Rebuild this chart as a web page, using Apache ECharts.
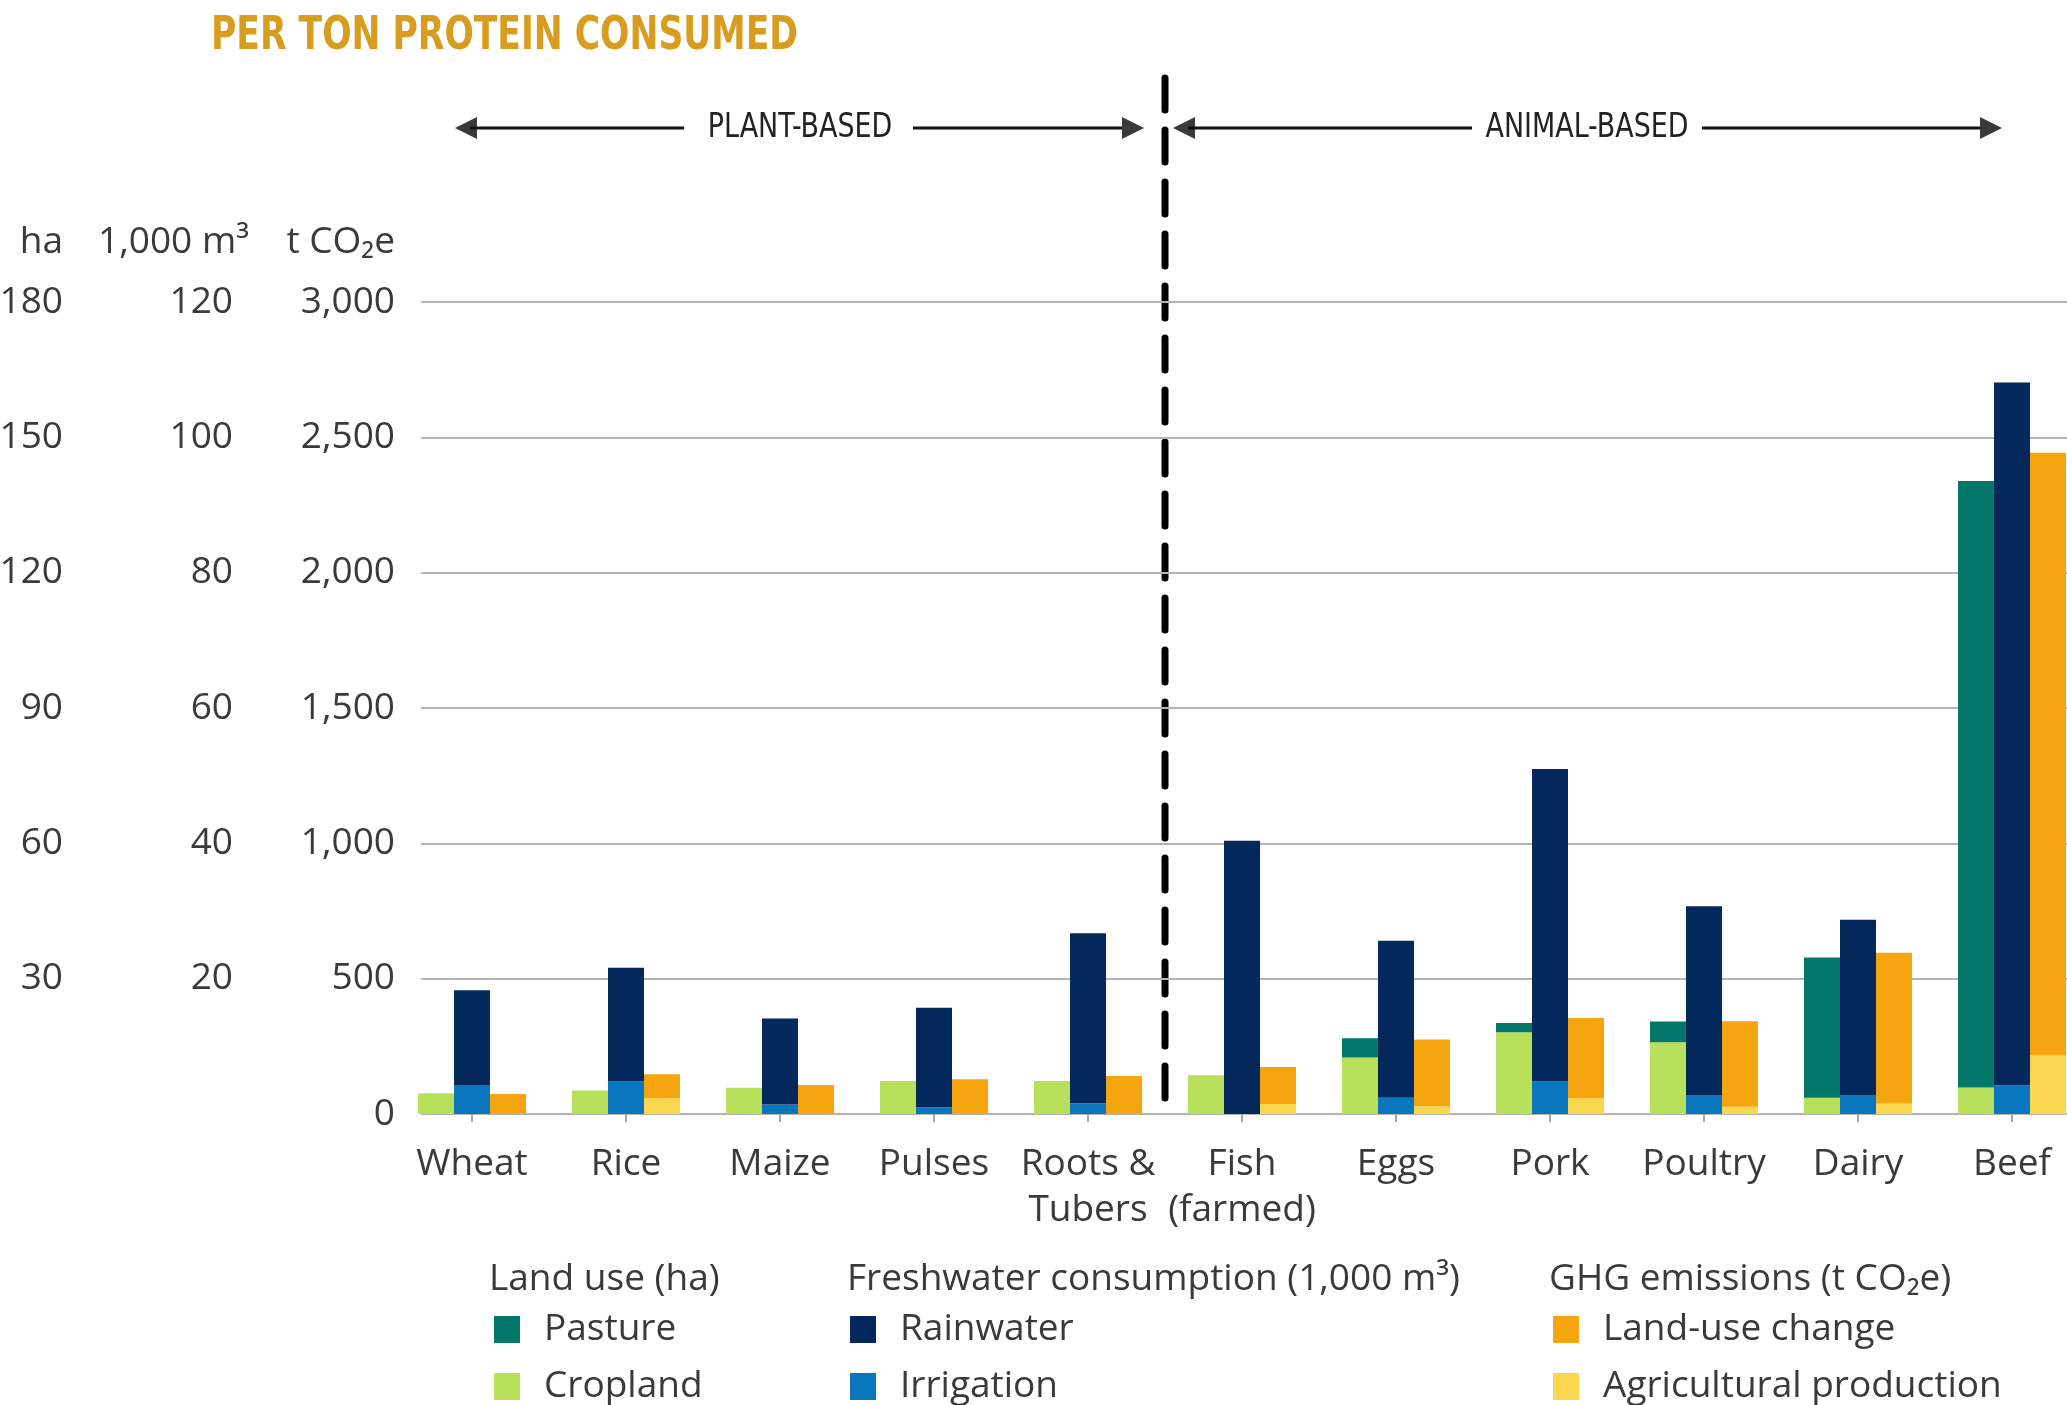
<!DOCTYPE html>
<html>
<head>
<meta charset="utf-8">
<title>Per ton protein consumed</title>
<script src="https://cdn.jsdelivr.net/npm/echarts@6/dist/echarts.min.js"></script>
<style>
html, body { margin: 0; padding: 0; background: #fff; }
#chart { width: 2067px; height: 1405px; }
</style>
</head>
<body>
<div id="chart"></div>
<script>
var categories = ['Wheat', 'Rice', 'Maize', 'Pulses', 'Roots &\nTubers', 'Fish\n(farmed)', 'Eggs', 'Pork', 'Poultry', 'Dairy', 'Beef'];

// land use, ha
var cropland = [4.6, 5.2, 5.8, 7.3, 7.3, 8.6, 12.5, 18.1, 15.9, 3.6, 5.9];
var pasture = [0, 0, 0, 0, 0, 0, 4.3, 2.1, 4.6, 31.1, 134.4];
// freshwater, 1,000 m3
var irrigation = [4.3, 4.8, 1.4, 1.0, 1.6, 0, 2.4, 4.8, 2.8, 2.8, 4.2];
var rainwater = [14.0, 16.8, 12.7, 14.7, 25.1, 40.4, 23.2, 46.2, 27.9, 25.9, 103.9];
// GHG, t CO2e
var agriProduction = [0, 58, 0, 0, 0, 37, 29, 58, 27, 39, 216];
var landUseChange = [74, 89, 107, 128, 140, 137, 246, 297, 316, 557, 2227];

// axis ranges (all three share the same grid lines)
var haAxis = { max: 180, step: 30 };
var waterAxis = { max: 120, step: 20 };
var ghgAxis = { max: 3000, step: 500 };

var chartDom = document.getElementById('chart');
var myChart = echarts.init(chartDom);

var font = '"Open Sans", "Noto Sans", sans-serif';
var narrow = '"Liberation Sans Narrow", "DejaVu Sans Condensed", "Roboto", sans-serif';
var textColor = '#3a3a3a';
var fontSize = 37;

function bar(name, data, stack, yIndex, color) {
    return {
        name: name,
        type: 'bar',
        data: data,
        stack: stack,
        yAxisIndex: yIndex,
        barWidth: 36,
        barGap: '0%',
        itemStyle: { color: color },
        emphasis: { disabled: true }
    };
}

function sideAxis(range, offset, name, hideZero, namePad) {
    return {
        type: 'value',
        gridIndex: 0,
        position: 'left',
        offset: offset,
        min: 0,
        max: range.max,
        interval: range.step,
        name: name,
        nameLocation: 'end',
        nameGap: 60,
        nameTextStyle: {
            fontFamily: font, fontSize: fontSize, color: textColor,
            align: 'right', verticalAlign: 'middle', padding: [0, namePad, 0, 0]
        },
        axisLine: { show: false },
        axisTick: { show: false },
        splitLine: { show: false },
        axisLabel: {
            margin: 0,
            fontFamily: font,
            fontSize: fontSize,
            color: textColor,
            formatter: function (v) {
                if (v === 0 && hideZero) return '';
                return v.toLocaleString('en-US');
            }
        }
    };
}

function legendBox(names, left) {
    return {
        data: names,
        orient: 'vertical',
        left: left,
        top: 1311,
        height: 130,
        padding: 0,
        icon: 'rect',
        itemWidth: 26,
        itemHeight: 27,
        itemGap: 20,
        selectedMode: false,
        textStyle: { fontFamily: font, fontSize: fontSize, color: textColor, padding: [0, 0, 0, 19] }
    };
}

function header(text, left) {
    return {
        text: text,
        left: left,
        top: 1261,
        padding: 0,
        textStyle: { fontFamily: font, fontSize: fontSize, fontWeight: 'normal', color: textColor }
    };
}

var arrowColor = '#3a3a3a';
function head(tipX, dir) {
    return {
        type: 'polygon',
        shape: { points: [[tipX, 128], [tipX - dir * 22, 117], [tipX - dir * 22, 139]] },
        style: { fill: arrowColor }
    };
}
function seg(x1, x2) {
    return { type: 'line', shape: { x1: x1, y1: 128, x2: x2, y2: 128 }, style: { stroke: '#111', lineWidth: 3 } };
}
function tag(text, cx) {
    return {
        type: 'text',
        x: cx,
        y: 128,
        scaleX: 0.88,
        style: { text: text, fontFamily: narrow, fontSize: 34, fill: '#222', align: 'center', verticalAlign: 'middle' }
    };
}

var option = {
    backgroundColor: '#ffffff',
    animation: false,
    title: [
        header('Land use (ha)', 489),
        header('Freshwater consumption (1,000 m\u00b3)', 847),
        header('GHG emissions (t CO\u2082e)', 1549)
    ],
    legend: [
        legendBox(['Pasture', 'Cropland'], 494),
        legendBox(['Rainwater', 'Irrigation'], 850),
        legendBox(['Land-use change', 'Agricultural production'], 1553)
    ],
    grid: [
        { left: 395, top: 302, width: 1694, height: 812, outerBoundsMode: 'none' },
        // grid lines only
        { left: 421, top: 302, right: 0, height: 812, outerBoundsMode: 'none' }
    ],
    xAxis: [
        {
            type: 'category',
            gridIndex: 0,
            data: categories,
            axisLine: { show: false },
            axisTick: { show: true, alignWithLabel: true, length: 8, lineStyle: { color: '#a9a9a9', width: 2 } },
            axisLabel: { margin: 27, fontFamily: font, fontSize: fontSize, lineHeight: 46, color: textColor, interval: 0 }
        },
        { type: 'value', gridIndex: 1, min: 0, max: 1, show: false }
    ],
    yAxis: [
        sideAxis(haAxis, 332, 'ha', true, 0),
        sideAxis(waterAxis, 162, '1,000 m\u00b3', true, -16),
        sideAxis(ghgAxis, 0, 't CO\u2082e', false, 0),
        {
            type: 'value',
            gridIndex: 1,
            min: 0,
            max: ghgAxis.max,
            interval: ghgAxis.step,
            axisLine: { show: false },
            axisTick: { show: false },
            axisLabel: { show: false },
            splitLine: { show: true, lineStyle: { color: '#b4b4b4', width: 2 } }
        }
    ],
    series: [
        bar('Cropland', cropland, 'land', 0, '#b9e05a'),
        bar('Pasture', pasture, 'land', 0, '#03786a'),
        bar('Irrigation', irrigation, 'water', 1, '#0a76bd'),
        bar('Rainwater', rainwater, 'water', 1, '#03295c'),
        bar('Agricultural production', agriProduction, 'ghg', 2, '#fbd74f'),
        bar('Land-use change', landUseChange, 'ghg', 2, '#f5a60e')
    ],
    graphic: [
        {
            type: 'text',
            x: 211,
            y: 14,
            scaleX: 0.835,
            style: {
                text: 'PER TON PROTEIN CONSUMED',
                fontFamily: narrow,
                fontSize: 46,
                fontWeight: 'bold',
                fill: '#d89d1e',
                shadowColor: 'rgba(255, 205, 60, 0.8)',
                shadowBlur: 8,
                verticalAlign: 'top'
            }
        },
        // plant-based arrow
        head(455, -1), seg(470, 684), tag('PLANT-BASED', 800), seg(913, 1130), head(1144, 1),
        // animal-based arrow
        head(1173, -1), seg(1188, 1472), tag('ANIMAL-BASED', 1587), seg(1702, 1988), head(2002, 1),
        // divider
        {
            type: 'line',
            shape: { x1: 1165, y1: 78, x2: 1165, y2: 1100 },
            style: { stroke: '#000', lineWidth: 7, lineDash: [32, 20], lineCap: 'round' }
        }
    ]
};

myChart.setOption(option);
window.addEventListener('resize', function () {
    myChart.resize();
});
</script>
</body>
</html>
